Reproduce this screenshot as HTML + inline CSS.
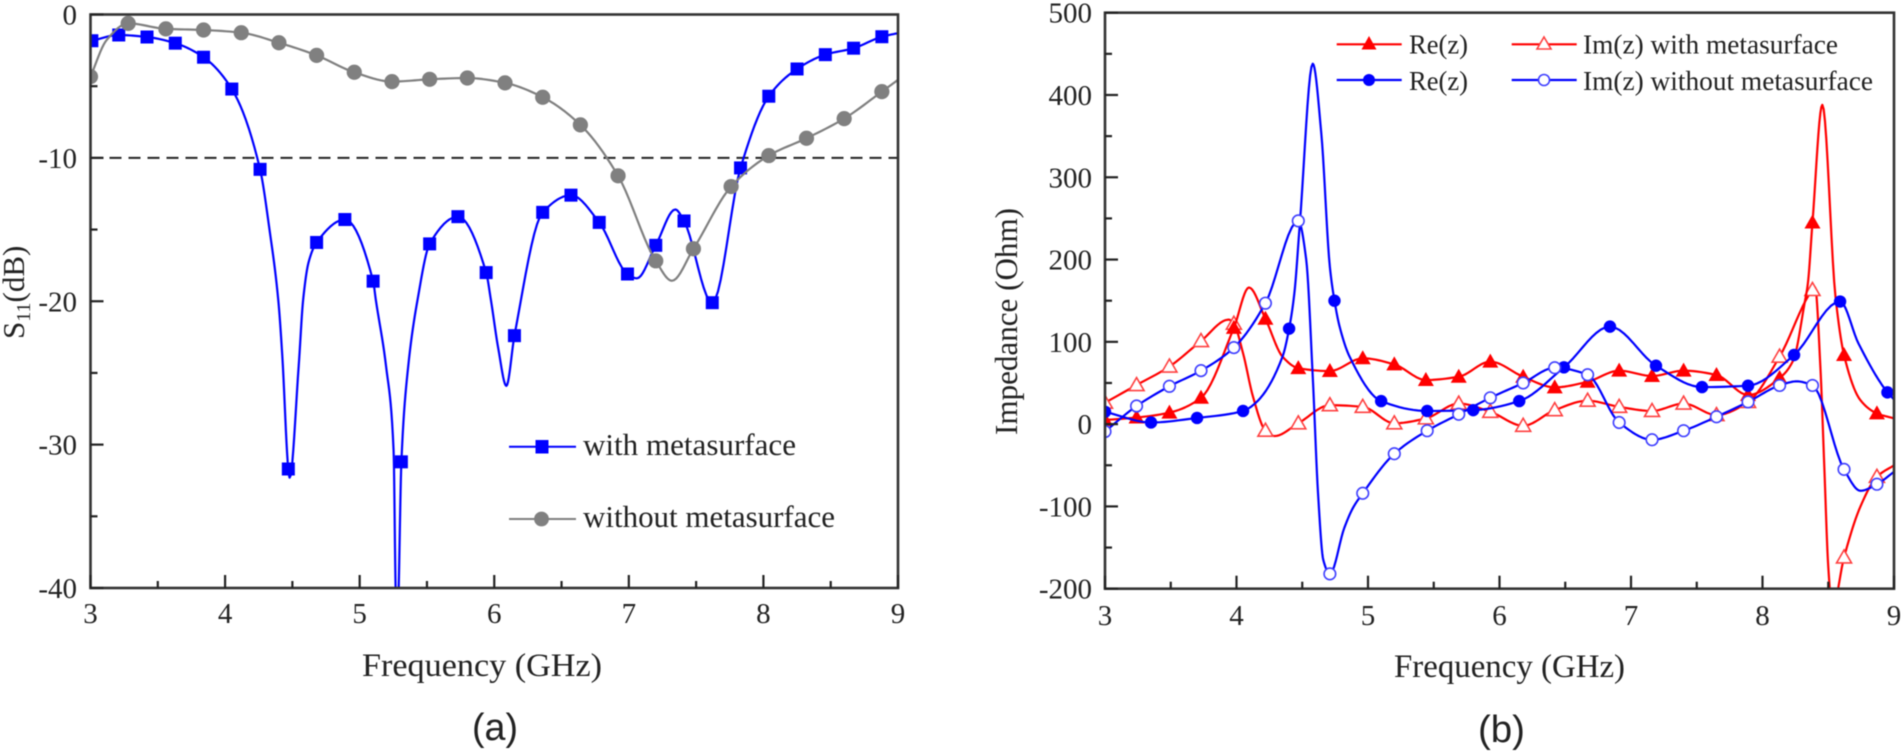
<!DOCTYPE html>
<html lang="en">
<head>
<meta charset="utf-8">
<title>S11 and impedance versus frequency</title>
<style>
html,body{margin:0;padding:0;background:#fff;width:1901px;height:752px;overflow:hidden}
svg{display:block;filter:blur(0.55px)}
text{font-family:"Liberation Serif",serif;fill:#222}
.caption{font-family:"Liberation Sans",sans-serif;font-size:38px}
</style>
</head>
<body>
<svg id="figure" xmlns="http://www.w3.org/2000/svg" width="1901" height="752" viewBox="0 0 1901 752">
<defs>
<clipPath id="clipA"><rect x="90.5" y="14.5" width="807.5" height="573.5"/></clipPath>
<clipPath id="clipB"><rect x="1105" y="12.7" width="789" height="576"/></clipPath>
</defs>
<rect width="1901" height="752" fill="#fff"/>

<g id="panelA">
<line id="refLine" stroke="#222" stroke-width="2" stroke-dasharray="12 7"/>
<g id="seriesA" clip-path="url(#clipA)"></g>
<g id="axesA"></g>
<text transform="translate(24 339) rotate(-90)" font-size="31">S<tspan font-size="20" dy="6">11</tspan><tspan dy="-6">(dB)</tspan></text>
<text x="362" y="676" font-size="33" textLength="240" lengthAdjust="spacingAndGlyphs">Frequency (GHz)</text>
<g>
<g>
<line x1="509" x2="576" y1="446.7" y2="446.7" stroke="#0000ff" stroke-width="2"/>
<rect x="535.5" y="440" width="13" height="13.5" fill="#0000ff"/>
<text x="583" y="455" font-size="31" textLength="213" lengthAdjust="spacingAndGlyphs">with metasurface</text>
</g>
<g>
<line x1="509" x2="576" y1="519" y2="519" stroke="#808080" stroke-width="2"/>
<circle cx="541.5" cy="519" r="7.4" fill="#808080"/>
<text x="583" y="527" font-size="31" textLength="252" lengthAdjust="spacingAndGlyphs">without metasurface</text>
</g>
</g>
<text class="caption" x="472" y="740" textLength="46" lengthAdjust="spacingAndGlyphs">(a)</text>
</g>

<g id="panelB">
<g id="seriesB" clip-path="url(#clipB)"></g>
<g id="axesB"></g>
<text transform="translate(1017 435) rotate(-90)" font-size="32" textLength="227" lengthAdjust="spacingAndGlyphs">Impedance (Ohm)</text>
<text x="1394" y="677" font-size="33" textLength="231" lengthAdjust="spacingAndGlyphs">Frequency (GHz)</text>
<g>
<g>
<line x1="1336.7" x2="1401.7" y1="44.3" y2="44.3" stroke="#ff0000" stroke-width="2.2"/>
<polygon points="1369,36 1376.5,49.5 1361.5,49.5" fill="#ff0000"/>
<text x="1409" y="53.5" font-size="27" textLength="59" lengthAdjust="spacingAndGlyphs">Re(z)</text>
</g>
<g>
<line x1="1336.7" x2="1401.7" y1="80" y2="80" stroke="#0000ff" stroke-width="2.2"/>
<circle cx="1369" cy="80" r="6" fill="#0000ff"/>
<text x="1409" y="90" font-size="27" textLength="59" lengthAdjust="spacingAndGlyphs">Re(z)</text>
</g>
<g>
<line x1="1511.7" x2="1576.7" y1="44.3" y2="44.3" stroke="#ff0000" stroke-width="2.2"/>
<polygon points="1544,37 1551,49 1537,49" fill="#fff" stroke="#ff4040" stroke-width="1.6"/>
<text x="1583" y="53.5" font-size="27" textLength="255" lengthAdjust="spacingAndGlyphs">Im(z) with metasurface</text>
</g>
<g>
<line x1="1511.7" x2="1576.7" y1="80" y2="80" stroke="#0000ff" stroke-width="2.2"/>
<circle cx="1544" cy="80" r="5.5" fill="#fff" stroke="#4040ff" stroke-width="1.6"/>
<text x="1583" y="90" font-size="27" textLength="290" lengthAdjust="spacingAndGlyphs">Im(z) without metasurface</text>
</g>
</g>
<text class="caption" x="1478" y="742" textLength="47" lengthAdjust="spacingAndGlyphs">(b)</text>
</g>
</svg>

<script>
// ---- Panel (a) data: S11 in dB vs frequency in GHz ----
const xTicksFreq = [3, 4, 5, 6, 7, 8, 9];
const xMinorFreq = [3.5, 4.5, 5.5, 6.5, 7.5, 8.5];
const s11Ticks = [0, -10, -20, -30, -40];
const s11Minor = [-5, -15, -25, -35];
const s11Threshold = -10;

const withFreq = [3.01,3.21,3.42,3.63,3.84,4.05,4.26,4.47,4.68,4.89,5.10,5.31,5.52,5.73,5.94,6.15,6.36,6.57,6.78,6.99,7.20,7.41,7.62,7.83,8.04,8.25,8.46,8.67,8.88];
const withS11 = [-1.83,-1.43,-1.57,-2.0,-2.98,-5.2,-10.8,-31.7,-15.9,-14.3,-18.6,-31.2,-16.0,-14.1,-18.0,-22.4,-13.8,-12.6,-14.5,-18.1,-16.1,-14.4,-20.1,-10.7,-5.7,-3.8,-2.8,-2.35,-1.55];
const withShapeFreq = [4.33,4.396,4.425,4.48,4.547,4.58,4.62,5.12,5.197,5.252,5.267,5.279,5.29,5.36,5.43,5.975,6.03,6.09,7.06,7.345,9];
const withShapeS11 = [-15.0,-20.0,-23.8,-32.3,-24.5,-19.9,-17.3,-19.9,-24.6,-30.4,-40,-44,-40,-24.6,-19.9,-19.9,-23.3,-25.9,-18.4,-13.6,-1.3];

const withoutFreq = [3.0,3.28,3.56,3.84,4.12,4.40,4.68,4.96,5.24,5.52,5.80,6.08,6.36,6.64,6.92,7.20,7.48,7.76,8.04,8.32,8.60,8.88];
const withoutS11 = [-4.33,-0.62,-1.0,-1.08,-1.27,-1.97,-2.85,-4.03,-4.68,-4.52,-4.43,-4.77,-5.77,-7.7,-11.25,-17.18,-16.34,-12.0,-9.84,-8.63,-7.26,-5.38];
const withoutShapeFreq = [3.12,7.32,9];
const withoutShapeS11 = [-1.78,-18.57,-4.56];

// ---- Panel (b) data: impedance in Ohm vs frequency in GHz ----
const zTicks = [500,400,300,200,100,0,-100,-200];
const zMinor = [450,350,250,150,50,-50,-150];

const reWithFreq = [3.0,3.24,3.49,3.73,3.98,4.22,4.47,4.71,4.96,5.20,5.44,5.69,5.93,6.18,6.42,6.67,6.91,7.16,7.40,7.65,7.89,8.13,8.38,8.62,8.87];
const reWithZ = [5,8,14,32,117,128,68,64.5,80,72.6,53.6,57.6,76,57.6,44.7,51.5,65,58.5,65,59.7,35.4,56,245,84,13];
const reWithShapeFreq = [4.095,4.35,8.235,8.32,8.345,8.455,8.555,8.745,9];
const reWithShapeZ = [166,82,78,147,171,388,155,29,7];

const reWithoutFreq = [3.0,3.35,3.70,4.05,4.40,4.745,5.10,5.45,5.80,6.15,6.49,6.84,7.19,7.54,7.89,8.24,8.59,8.95];
const reWithoutZ = [15,2,7.5,16,116,150,28,16,17,28,69,118.5,71,45,46.7,84,149,38.6];
const reWithoutShapeFreq = [4.14,4.35,4.44,4.48,4.58,4.645,4.71,4.785,4.86,8.73,9];
const reWithoutShapeZ = [25,82,159,240,438,353,191,118,82,98,30];

const imWithFreq = [3.0,3.24,3.49,3.73,3.98,4.22,4.47,4.71,4.96,5.20,5.44,5.69,5.93,6.18,6.42,6.67,6.91,7.16,7.40,7.65,7.89,8.13,8.38,8.62,8.87];
const imWithZ = [26,47.5,70,101,122,-8,1,23,21,1,7,25,15,-2,17,28.5,21,16,25,11,27,82,163,-162,-64];
const imWithShapeFreq = [3.94,4.05,4.126,4.29,8.40,8.44,8.47,8.50,8.53,8.745,9];
const imWithShapeZ = [127,86,33,-14.5,166,70,-52,-173,-225,-100,-50];

const imWithoutFreq = [3.0,3.24,3.49,3.73,3.98,4.22,4.47,4.71,4.96,5.20,5.45,5.69,5.93,6.18,6.42,6.67,6.91,7.16,7.40,7.65,7.89,8.13,8.38,8.62,8.87];
const imWithoutZ = [-9,22,46,65,93,147,247,-182,-84,-36,-8,12,32,50,68.5,60,2,-19,-8,9,27,47,47,-55,-73];
const imWithoutShapeFreq = [4.53,4.58,4.62,4.66,4.82,4.885,8.26,8.745,9];
const imWithoutShapeZ = [200,57,-84,-165,-126,-102,52,-81,-58];

const SVGNS = 'http://www.w3.org/2000/svg';
function make(tag, parent) {
  const el = document.createElementNS(SVGNS, tag);
  parent.appendChild(el);
  return el;
}
function scale(d0, d1, r0, r1) {
  return function (v) { return r0 + (v - d0) * (r1 - r0) / (d1 - d0); };
}
// Merge marker knots and shape knots, then sample a monotone cubic through them.
function curvePoints(fa, va, fb, vb) {
  const k = fa.map((f, i) => [f, va[i]]).concat(fb.map((f, i) => [f, vb[i]])).sort((a, b) => a[0] - b[0]);
  const n = k.length, h = [], s = [], m = [];
  for (let i = 0; i < n - 1; i++) {
    h.push(k[i + 1][0] - k[i][0]);
    s.push((k[i + 1][1] - k[i][1]) / h[i]);
  }
  m.push(s[0]);
  for (let i = 1; i < n - 1; i++) {
    if (s[i - 1] * s[i] <= 0) { m.push(0); continue; }
    const w1 = 2 * h[i] + h[i - 1], w2 = h[i] + 2 * h[i - 1];
    m.push((w1 + w2) / (w1 / s[i - 1] + w2 / s[i]));
  }
  m.push(s[n - 2]);
  const out = [];
  for (let i = 0; i < n - 1; i++) {
    for (let j = 0; j < 10; j++) {
      const t = j / 10, t2 = t * t, t3 = t2 * t;
      out.push([
        k[i][0] + t * h[i],
        (2 * t3 - 3 * t2 + 1) * k[i][1] + (t3 - 2 * t2 + t) * h[i] * m[i] + (-2 * t3 + 3 * t2) * k[i + 1][1] + (t3 - t2) * h[i] * m[i + 1]
      ]);
    }
  }
  out.push(k[n - 1]);
  return out;
}
function drawMarker(g, kind, name, cx, cy) {
  let el;
  if (kind === 'square') {
    el = make('rect', g);
    el.setAttribute('x', cx - 6.5);
    el.setAttribute('y', cy - 6.5);
    el.setAttribute('width', 13);
    el.setAttribute('height', 13);
    el.setAttribute('fill', '#0000ff');
  } else if (kind === 'grayCircle') {
    el = make('circle', g);
    el.setAttribute('cx', cx);
    el.setAttribute('cy', cy);
    el.setAttribute('r', 7.6);
    el.setAttribute('fill', '#808080');
  } else if (kind === 'blueDot') {
    el = make('circle', g);
    el.setAttribute('cx', cx);
    el.setAttribute('cy', cy);
    el.setAttribute('r', 6.2);
    el.setAttribute('fill', '#0000ff');
  } else if (kind === 'blueRing') {
    el = make('circle', g);
    el.setAttribute('cx', cx);
    el.setAttribute('cy', cy);
    el.setAttribute('r', 5.8);
    el.setAttribute('fill', '#fff');
    el.setAttribute('stroke', '#4040ff');
    el.setAttribute('stroke-width', 1.6);
  } else if (kind === 'redSolid') {
    el = make('polygon', g);
    el.setAttribute('points', (cx) + ',' + (cy - 8) + ' ' + (cx + 8) + ',' + (cy + 6) + ' ' + (cx - 8) + ',' + (cy + 6));
    el.setAttribute('fill', '#ff0000');
  } else {
    el = make('polygon', g);
    el.setAttribute('points', (cx) + ',' + (cy - 7.5) + ' ' + (cx + 7.5) + ',' + (cy + 5.5) + ' ' + (cx - 7.5) + ',' + (cy + 5.5));
    el.setAttribute('fill', '#fff');
    el.setAttribute('stroke', '#ff4040');
    el.setAttribute('stroke-width', 1.6);
  }
  
  
}
function drawSeries(parent, name, color, width, kind, fa, va, fb, vb, xs, ys) {
  const g = make('g', parent);
  
  
  const line = make('polyline', g);
  
  
  line.setAttribute('fill', 'none');
  line.setAttribute('stroke', color);
  line.setAttribute('stroke-width', width);
  line.setAttribute('stroke-linejoin', 'round');
  line.setAttribute('points', curvePoints(fa, va, fb, vb).map(p => xs(p[0]).toFixed(2) + ',' + ys(p[1]).toFixed(2)).join(' '));
  fa.forEach((f, i) => drawMarker(g, kind, name, xs(f), ys(va[i])));
}
function drawAxes(parent, prefix, xs, ys, yMax, yMin, yTicks, yMinor, xLabelY, yLabelX) {
  const frame = make('rect', parent);
  
  
  frame.setAttribute('x', xs(3));
  frame.setAttribute('y', ys(yMax));
  frame.setAttribute('width', xs(9) - xs(3));
  frame.setAttribute('height', ys(yMin) - ys(yMax));
  frame.setAttribute('fill', 'none');
  frame.setAttribute('stroke', '#333');
  frame.setAttribute('stroke-width', 2.6);
  function tick(x1, y1, x2, y2, name) {
    const t = make('line', parent);
    
    
    t.setAttribute('x1', x1);
    t.setAttribute('y1', y1);
    t.setAttribute('x2', x2);
    t.setAttribute('y2', y2);
    t.setAttribute('stroke', '#222');
    t.setAttribute('stroke-width', 2.2);
  }
  function label(txt, x, y, anchor, name) {
    const t = make('text', parent);
    
    
    t.setAttribute('x', x);
    t.setAttribute('y', y);
    t.setAttribute('text-anchor', anchor);
    t.setAttribute('font-size', 29);
    t.textContent = txt;
  }
  const bottom = ys(yMin), left = xs(3);
  xTicksFreq.forEach(f => {
    tick(xs(f), bottom, xs(f), bottom - 13, prefix + '-x-tick');
    label(String(f), xs(f), xLabelY, 'middle', prefix + '-x-tick-label');
  });
  xMinorFreq.forEach(f => tick(xs(f), bottom, xs(f), bottom - 7, prefix + '-x-minor-tick'));
  yTicks.forEach(v => {
    tick(left, ys(v), left + 13, ys(v), prefix + '-y-tick');
    label(String(v), yLabelX, ys(v) + 10, 'end', prefix + '-y-tick-label');
  });
  yMinor.forEach(v => tick(left, ys(v), left + 7, ys(v), prefix + '-y-minor-tick'));
}

const xA = scale(3, 9, 90.5, 898);
const yA = scale(0, -40, 14.5, 588);
const xB = scale(3, 9, 1105, 1894);
const yB = scale(500, -200, 12.7, 588.7);

const refLine = document.getElementById('refLine');
refLine.setAttribute('x1', xA(3));
refLine.setAttribute('x2', xA(9));
refLine.setAttribute('y1', yA(s11Threshold));
refLine.setAttribute('y2', yA(s11Threshold));

const seriesA = document.getElementById('seriesA');
drawSeries(seriesA, 'with-metasurface', '#0000ff', 2.2, 'square', withFreq, withS11, withShapeFreq, withShapeS11, xA, yA);
drawSeries(seriesA, 'without-metasurface', '#808080', 2.2, 'grayCircle', withoutFreq, withoutS11, withoutShapeFreq, withoutShapeS11, xA, yA);
drawAxes(document.getElementById('axesA'), 's11', xA, yA, 0, -40, s11Ticks, s11Minor, 623, 77);

const seriesB = document.getElementById('seriesB');
drawSeries(seriesB, 'im-with-metasurface', '#ff0000', 2.2, 'redOpen', imWithFreq, imWithZ, imWithShapeFreq, imWithShapeZ, xB, yB);
drawSeries(seriesB, 're-with-metasurface', '#ff0000', 2.2, 'redSolid', reWithFreq, reWithZ, reWithShapeFreq, reWithShapeZ, xB, yB);
drawSeries(seriesB, 're-without-metasurface', '#0000ff', 2.2, 'blueDot', reWithoutFreq, reWithoutZ, reWithoutShapeFreq, reWithoutShapeZ, xB, yB);
drawSeries(seriesB, 'im-without-metasurface', '#0000ff', 2.2, 'blueRing', imWithoutFreq, imWithoutZ, imWithoutShapeFreq, imWithoutShapeZ, xB, yB);
drawAxes(document.getElementById('axesB'), 'impedance', xB, yB, 500, -200, zTicks, zMinor, 625, 1092);
</script>
</body>
</html>
